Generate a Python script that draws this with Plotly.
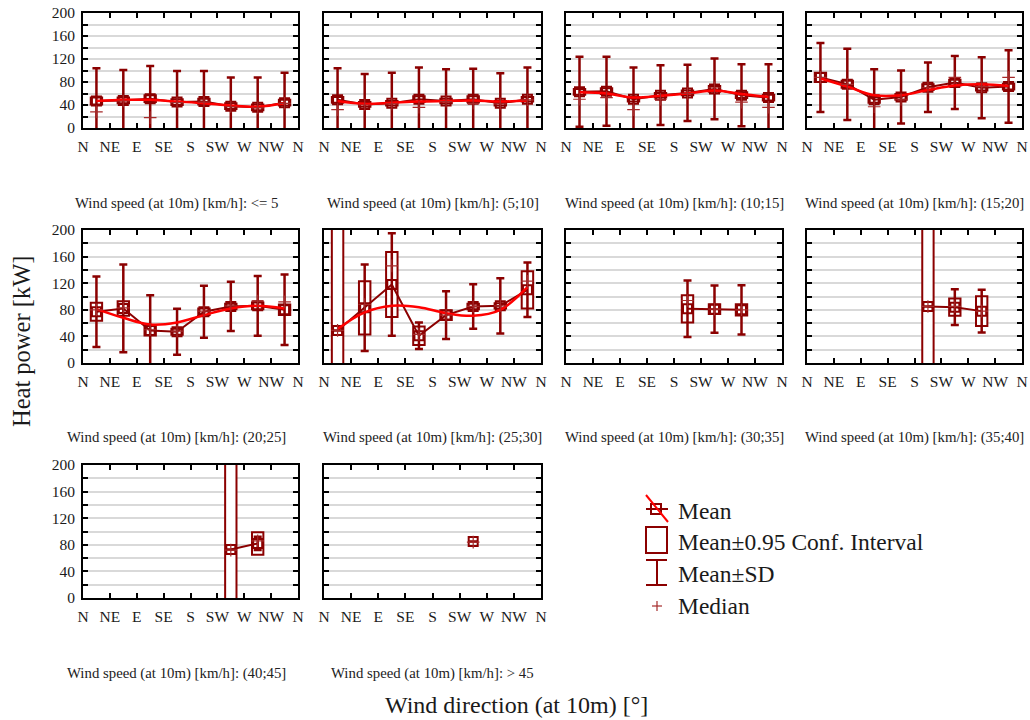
import plotly.graph_objects as go

# ---------------- data ----------------
DIRECTION_LABELS = ["N", "NE", "E", "SE", "S", "SW", "W", "NW", "N"]
DIRECTION_TICKS = [0, 45, 90, 135, 180, 225, 270, 315, 360]
BIN_CENTERS = [22.5, 67.5, 112.5, 157.5, 202.5, 247.5, 292.5, 337.5]
SPEED_CLASSES = ["<= 5", "(5;10]", "(10;15]", "(15;20]", "(20;25]",
                 "(25;30]", "(30;35]", "(35;40]", "(40;45]", "> 45"]
INF = 1000  # confidence interval unbounded (n = 2)
_ = None

MEAN = [
    [47, 48, 51, 45, 46, 38, 36, 44],
    [49, 41, 43, 50, 47, 50, 43, 50],
    [63, 64, 50, 57, 61, 68, 57, 53],
    [88, 76, 49, 54, 71, 79, 70, 72],
    [77, 82, 49, 47, 77, 85, 86, 80],
    [49, 83, 118, 41, 72, 85, 86, 110],
    [_, _, _, _, 81.5, 81, 80, _],
    [_, _, _, _, 85, 84, 78, _],
    [_, _, _, _, _, 73, 82, _],
    [_, _, _, _, _, 85, _, _],
]
CI = [
    [6, 5, 6, 5, 5, 5, 5, 5],
    [5, 4, 4, 5, 4, 5, 4, 4],
    [5, 5, 4, 4, 4, 5, 5, 5],
    [8, 6, 5, 5, 5, 5, 5, 5],
    [13.5, 11, 7.5, 4.5, 5, 4, 5, 8],
    [INF, 40, 49, 14, 7.5, 4, 4, 28],
    [_, _, _, _, 20.5, 7.5, 8.5, _],
    [_, _, _, _, INF, 13, 22.5, _],
    [_, _, _, _, _, INF, 17, _],
    [_, _, _, _, _, _, _, _],
]
SD = [
    [57, 53, 57, 54, 53, 50, 52, 52],
    [55, 53, 53, 55, 55, 53, 52, 55],
    [61, 60, 55, 52, 49, 53, 54, 58],
    [60, 62, 53, 46, 43, 46, 53, 63],
    [53, 66, 53, 34.5, 39, 37, 45, 53],
    [_, 65, 77, 20, 36, 33.5, 41.5, 41],
    [_, _, _, _, 42.5, 35.5, 37, _],
    [_, _, _, _, _, 27, 32, _],
    [_, _, _, _, _, _, 10, _],
    [_, _, _, _, _, _, _, _],
]
MEDIAN = [
    [28, 47, 18, 44, 45, 37, 35, 43],
    [32, 40, 42, 36, 46, 43, 42, 49],
    [50, 53, 32, 50, 60, 70, 45, 36],
    [88, 76, 37, 50, 70, 88, 72, 88],
    [80, 83, 50, 48, 78, 86, 93, 92],
    [49, 88, 146, 43, 72, 85, 86, 123],
    [_, _, _, _, 94, 81, 80, _],
    [_, _, _, _, 85, 85, 78, _],
    [_, _, _, _, _, 72, 86, _],
    [_, _, _, _, _, 84, _, _],
]
FIT = [
    [47, 49, 49, 46, 43, 39, 37, 43],
    [47, 42, 44, 46, 47, 48, 46, 48],
    [62, 60, 53, 56, 60, 65, 59, 54],
    [86, 72, 57, 57, 66, 74, 76, 73],
    [81, 68, 58, 61, 72, 82, 86, 82],
    [51, 76, 86, 84, 75, 71, 80, 114],
    None, None, None, None,
]

# ---------------- style / layout ----------------
W, H = 1030, 720
DR = "#8b0000"
MED_C = "#a52a2a"
FIT_C = "#ff0000"
GRID_C = "#d9d9d9"
FONT = "Liberation Serif, Times New Roman, serif"
TXT = "#1a1a1a"

COL_X = [(83, 298), (324, 541), (566, 782), (807, 1022)]
ROW_Y = [(13, 128), (230, 363), (465, 598)]
SUB_Y = [203, 438, 673]
BOX_W = 19


def px(x):
    return x / W


def py(y):
    return 1 - y / H


fig = go.Figure()
layout = dict(
    width=W, height=H,
    margin=dict(l=0, r=0, t=0, b=0, pad=0, autoexpand=False),
    paper_bgcolor="white", plot_bgcolor="white",
    showlegend=False, barmode="overlay",
    font=dict(family=FONT, color=TXT),
)
annotations = []
shapes = []

for i in range(10):
    r, c = divmod(i, 4)
    xa = "x" if i == 0 else f"x{i + 1}"
    ya = "y" if i == 0 else f"y{i + 1}"
    xkey = "xaxis" if i == 0 else f"xaxis{i + 1}"
    ykey = "yaxis" if i == 0 else f"yaxis{i + 1}"
    x0, x1 = COL_X[c]
    y0, y1 = ROW_Y[r]
    layout[xkey] = dict(
        domain=[px(x0), px(x1)], anchor=ya, range=[0, 360],
        tickmode="array", tickvals=DIRECTION_TICKS, ticktext=DIRECTION_LABELS,
        ticks="inside", ticklen=5, tickwidth=2, tickcolor="black",
        showline=True, linewidth=2, linecolor="black", mirror="ticks",
        showgrid=False, zeroline=False,
        tickfont=dict(family=FONT, size=15.5, color=TXT),
        ticklabelstandoff=3,
    )
    layout[ykey] = dict(
        domain=[py(y1), py(y0)], anchor=xa, range=[0, 200],
        tickmode="array", tickvals=[0, 40, 80, 120, 160, 200],
        ticks="inside", ticklen=5, tickwidth=2, tickcolor="black",
        showline=True, linewidth=2, linecolor="black", mirror="ticks",
        showgrid=True, gridcolor=GRID_C, gridwidth=2, zeroline=False,
        minor=dict(tickvals=[20, 60, 100, 140, 180], ticks="inside",
                   ticklen=5, tickwidth=2, tickcolor="black",
                   showgrid=True, gridcolor=GRID_C, gridwidth=2),
        showticklabels=(c == 0),
        tickfont=dict(family=FONT, size=15.5, color=TXT),
        ticklabelstandoff=3,
    )

    mean = MEAN[i]
    ci = CI[i]
    sd = SD[i]
    med = MEDIAN[i]

    # Mean ± SD whiskers
    fig.add_trace(go.Scatter(
        x=BIN_CENTERS, y=mean, mode="markers", xaxis=xa, yaxis=ya,
        marker=dict(size=1, color="rgba(0,0,0,0)"),
        error_y=dict(type="data", array=sd, symmetric=True, color=DR,
                     thickness=2.5, width=4),
        hoverinfo="skip",
    ))
    # Mean ± 0.95 CI boxes
    base = [m - q if (m is not None and q is not None) else None for m, q in zip(mean, ci)]
    span = [2 * q if q is not None else None for q in ci]
    fig.add_trace(go.Bar(
        x=BIN_CENTERS, base=base, y=span, width=BOX_W, xaxis=xa, yaxis=ya,
        marker=dict(color="white", line=dict(color=DR, width=2)),
        hoverinfo="skip",
    ))
    # Means
    fig.add_trace(go.Scatter(
        x=BIN_CENTERS, y=mean, mode="lines+markers", xaxis=xa, yaxis=ya,
        line=dict(color=DR, width=2),
        marker=dict(symbol="square-open", size=9, color=DR,
                    line=dict(color=DR, width=2)),
        hoverinfo="skip",
    ))
    # Smoothed fit
    if FIT[i] is not None:
        fig.add_trace(go.Scatter(
            x=BIN_CENTERS, y=FIT[i], mode="lines", xaxis=xa, yaxis=ya,
            line=dict(color=FIT_C, width=2.5, shape="spline", smoothing=1.0),
            hoverinfo="skip",
        ))
    # Medians
    fig.add_trace(go.Scatter(
        x=BIN_CENTERS, y=med, mode="markers", xaxis=xa, yaxis=ya,
        marker=dict(symbol="cross-thin", size=9, color=MED_C,
                    line=dict(color=MED_C, width=1.2)),
        hoverinfo="skip",
    ))

    # panel subtitle
    cx = 176 if c == 0 else (x0 + x1) / 2
    annotations.append(dict(
        text=f"Wind speed (at 10m) [km/h]: {SPEED_CLASSES[i]}",
        x=px(cx), y=py(SUB_Y[r]), xref="paper", yref="paper",
        xanchor="center", yanchor="middle", showarrow=False,
        font=dict(family=FONT, size=14.8, color="#222222"),
    ))

# axis titles
annotations.append(dict(
    text="Heat power [kW]", x=px(21), y=py(342), xref="paper", yref="paper",
    textangle=-90, showarrow=False, xanchor="center", yanchor="middle",
    font=dict(family=FONT, size=24.5, color=TXT),
))
annotations.append(dict(
    text="Wind direction (at 10m) [°]", x=px(516), y=py(705),
    xref="paper", yref="paper", showarrow=False,
    xanchor="center", yanchor="middle",
    font=dict(family=FONT, size=24, color=TXT),
))

# legend (drawn manually)
LEG_ITEMS = ["Mean", "Mean±0.95 Conf. Interval", "Mean±SD", "Median"]
LEG_Y = [511, 542, 574, 606]
for label, ly in zip(LEG_ITEMS, LEG_Y):
    annotations.append(dict(
        text=label, x=px(676), y=py(ly), xref="paper", yref="paper",
        xanchor="left", yanchor="middle", showarrow=False,
        font=dict(family=FONT, size=23.5, color=TXT),
    ))


def pline(xa_, ya_, xb, yb, color, width):
    shapes.append(dict(type="line", xref="paper", yref="paper",
                       x0=px(xa_), y0=py(ya_), x1=px(xb), y1=py(yb),
                       line=dict(color=color, width=width)))


def prect(xa_, ya_, xb, yb, color, width):
    shapes.append(dict(type="rect", xref="paper", yref="paper",
                       x0=px(xa_), y0=py(ya_), x1=px(xb), y1=py(yb),
                       line=dict(color=color, width=width), fillcolor="white"))


# Mean symbol
prect(651, 504, 661, 514, DR, 2)
pline(646, 509, 668, 509, DR, 2)
pline(646, 495, 668, 522, FIT_C, 2)
# CI symbol
prect(646, 527, 667, 553, DR, 2)
# SD symbol
pline(657, 560, 657, 585, DR, 2)
pline(646, 560, 667, 560, DR, 2)
pline(646, 585, 667, 585, DR, 2)
# Median symbol
pline(652, 606, 662, 606, MED_C, 1.2)
pline(657, 601, 657, 611, MED_C, 1.2)

layout["annotations"] = annotations
layout["shapes"] = shapes
fig.update_layout(**layout)
fig.write_html(
    "out.html",
    config={"displayModeBar": False},
    post_script=(
        "document.documentElement.style.margin='0';"
        "document.body.style.margin='0';"
        "document.body.style.overflow='hidden';"
    ),
)
